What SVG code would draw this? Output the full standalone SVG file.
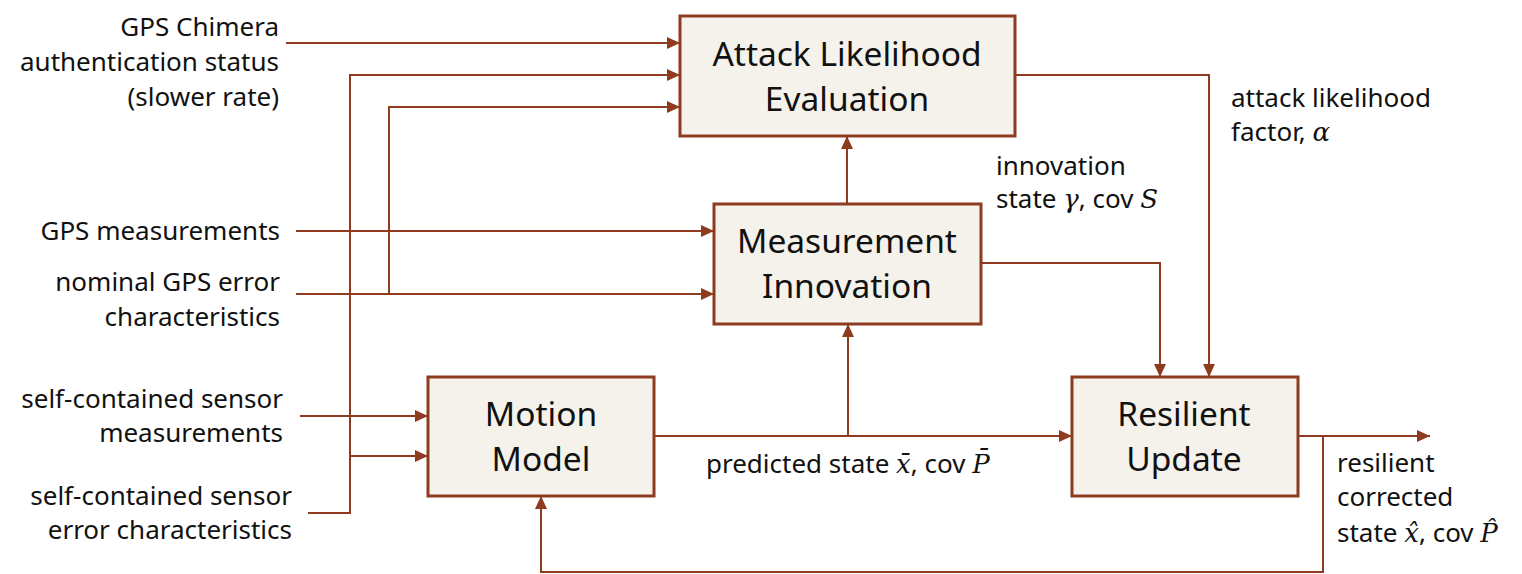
<svg xmlns="http://www.w3.org/2000/svg" width="1522" height="574" viewBox="0 0 1522 574">
<defs>
<marker id="ah" markerUnits="userSpaceOnUse" markerWidth="14" markerHeight="14" viewBox="0 0 14 14" refX="13" refY="7" orient="auto">
<path d="M0,1 L13,7 L0,13 Z" fill="#8E3B1F"/>
</marker>
<style>
.box{fill:#F5F2EB;stroke:#8E3B1F;stroke-width:3}
.ln{fill:none;stroke:#8E3B1F;stroke-width:2}
.arr{marker-end:url(#ah)}
.t{font-family:"Noto Sans","Liberation Sans",sans-serif;font-size:26px;fill:#111}
.bt{font-family:"Noto Sans","Liberation Sans",sans-serif;font-size:33.5px;fill:#111;text-anchor:middle}
.r{text-anchor:end}
.m{font-family:"DejaVu Serif","Liberation Serif",serif;font-style:italic}
</style>
</defs>
<g id="connectors">
<path class="ln arr" d="M286,43 H680"/>
<path class="ln arr" d="M308,513 H350 V75 H680"/>
<path class="ln arr" d="M350,456 H428"/>
<path class="ln arr" d="M365,294 H389 V107 H680"/>
<path class="ln arr" d="M296,231 H714"/>
<path class="ln arr" d="M296,294 H714"/>
<path class="ln arr" d="M300,416 H428"/>
<path class="ln arr" d="M654,436 H1072"/>
<path class="ln arr" d="M848,436 V324"/>
<path class="ln arr" d="M847,204 V136"/>
<path class="ln arr" d="M981,263 H1160 V377"/>
<path class="ln arr" d="M1016,75 H1209 V377"/>
<path class="ln arr" d="M1298,436 H1430"/>
<path class="ln arr" d="M1323,436 V572 H541 V496"/>
</g>
<g id="attack">
<rect class="box" x="680" y="16" width="335" height="120"/>
<text class="bt" x="847" y="66">Attack Likelihood</text>
<text class="bt" x="847" y="111">Evaluation</text>
</g>
<g id="innovation">
<rect class="box" x="714" y="204" width="267" height="120"/>
<text class="bt" x="847" y="253">Measurement</text>
<text class="bt" x="847" y="298">Innovation</text>
</g>
<g id="motion">
<rect class="box" x="428" y="377" width="226" height="119"/>
<text class="bt" x="541" y="426">Motion</text>
<text class="bt" x="541" y="471">Model</text>
</g>
<g id="resilient">
<rect class="box" x="1072" y="377" width="226" height="119"/>
<text class="bt" x="1184" y="426">Resilient</text>
<text class="bt" x="1184" y="471">Update</text>
</g>
<g id="labels">
<text class="t r" x="279" y="36">GPS Chimera</text>
<text class="t r" x="279" y="71">authentication status</text>
<text class="t r" x="279" y="106">(slower rate)</text>
<text class="t r" x="280" y="240">GPS measurements</text>
<text class="t r" x="280" y="291">nominal GPS error</text>
<text class="t r" x="280" y="326">characteristics</text>
<text class="t r" x="283" y="408">self-contained sensor</text>
<text class="t r" x="283" y="442">measurements</text>
<text class="t r" x="292" y="505">self-contained sensor</text>
<text class="t r" x="292" y="539">error characteristics</text>
<text class="t" x="996" y="175">innovation</text>
<text class="t" x="996" y="208">state <tspan class="m">γ</tspan>, cov <tspan class="m">S</tspan></text>
<text class="t" x="1231" y="107">attack likelihood</text>
<text class="t" x="1231" y="141">factor, <tspan class="m">α</tspan></text>
<text class="t" x="706" y="473">predicted state <tspan class="m">x̄</tspan>, cov <tspan class="m">P̄</tspan></text>
<text class="t" x="1337" y="472">resilient</text>
<text class="t" x="1337" y="506">corrected</text>
<text class="t" x="1337" y="542">state <tspan class="m">x̂</tspan>, cov <tspan class="m">P̂</tspan></text>
</g>
</svg>
